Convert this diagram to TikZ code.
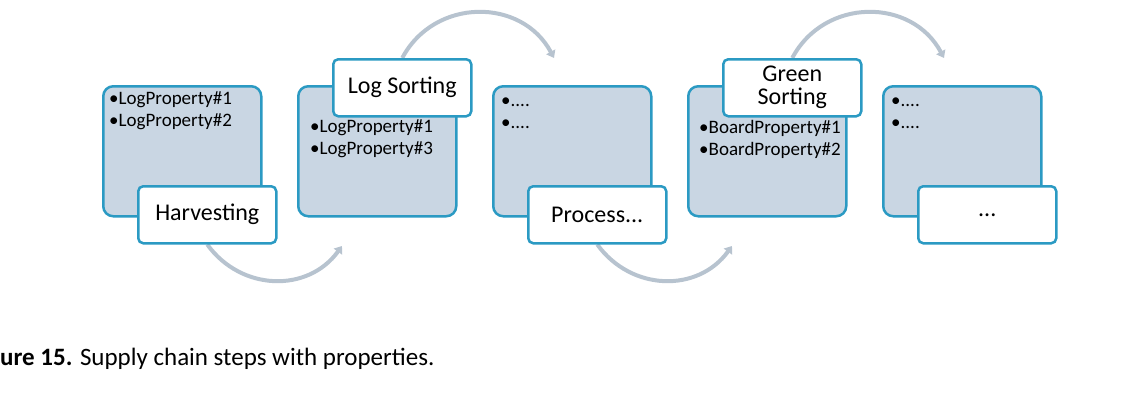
\documentclass[tikz,border=0pt]{standalone}
\usepackage{fontspec}
\setmainfont{Carlito}
\usetikzlibrary{arrows.meta,backgrounds}
\definecolor{boxfill}{HTML}{C9D6E3}
\definecolor{boxline}{HTML}{2B9AC3}
\definecolor{flowcol}{HTML}{B7C3CF}
\begin{document}
\begin{tikzpicture}[x=1pt,y=-1pt,
  propbox/.style={draw=boxline, fill=boxfill, line width=2.5pt, rounded corners=10pt,
    minimum width=158pt, minimum height=130pt, anchor=north west, inner sep=0pt},
  labelbox/.style={draw=boxline, fill=white, line width=2.5pt, rounded corners=5pt,
    minimum width=138pt, minimum height=57pt, anchor=north west, inner sep=0pt,
    align=center, font=\fontsize{24}{23}\selectfont},
  proptext/.style={anchor=west, inner sep=0pt, font=\fontsize{19}{20}\selectfont},
  flow/.style={draw=flowcol, line width=4pt, -{Triangle[width=10pt,length=7pt]}}]
\useasboundingbox (0,0) rectangle (1144,394);

% property boxes
\node[propbox] (p1) at (102,85) {};
\node[propbox] (p2) at (297,85) {};
\node[propbox] (p3) at (492,85) {};
\node[propbox] (p4) at (687,85) {};
\node[propbox] (p5) at (882,85) {};

% property texts
\node[proptext] (t1a) at (109,100) {•LogProperty\#1};
\node[proptext] (t1b) at (109,122) {•LogProperty\#2};
\node[proptext] (t2a) at (310,128) {•LogProperty\#1};
\node[proptext] (t2b) at (310,150) {•LogProperty\#3};
\node[proptext] (t3a) at (501,102) {•....};
\node[proptext] (t3b) at (501,124) {•....};
\node[proptext] (t4a) at (699,128) {•BoardProperty\#1};
\node[proptext] (t4b) at (699,150) {•BoardProperty\#2};
\node[proptext] (t5a) at (891,102) {•....};
\node[proptext] (t5b) at (891,124) {•....};

% step labels
\node[labelbox] (l1) at (137,185) {Harvesting};
\node[labelbox] (l2) at (332,58) {Log Sorting};
\node[labelbox] (l3) at (527,185) {Process...};
\node[labelbox] (l4) at (722,58) {Green\\Sorting};
\node[labelbox] (l5) at (917,185) {...};

% arrow end points
\coordinate (e1) at (342,246);
\coordinate (e2) at (554,58);
\coordinate (e3) at (732,246);
\coordinate (e4) at (944,58);

\begin{scope}[on background layer]
\draw[flow] (l1.south) to[out=-54,in=234,looseness=1.1] (e1);
\draw[flow] (l2.north) to[out=62,in=118,looseness=1.16] (e2);
\draw[flow] (l3.south) to[out=-54,in=234,looseness=1.1] (e3);
\draw[flow] (l4.north) to[out=62,in=118,looseness=1.16] (e4);
\end{scope}

% caption
\node[anchor=base west, inner sep=0pt, font=\fontsize{25}{28}\selectfont] (cap) at (0,365)
  {\textbf{ure 15.} Supply chain steps with properties.};
\end{tikzpicture}
\end{document}
